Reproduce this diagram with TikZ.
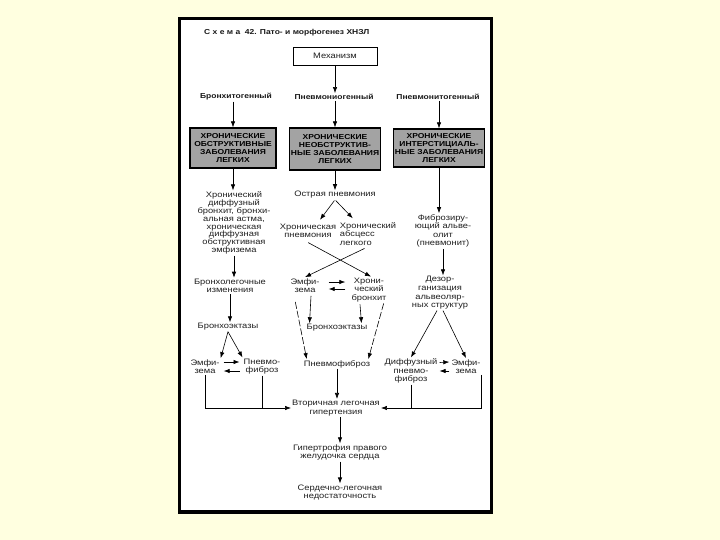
\documentclass[tikz,border=0pt]{standalone}
\usepackage{fontspec}
\setmainfont{Liberation Sans}[FakeStretch=1.18]
\usetikzlibrary{arrows.meta,calc}
\definecolor{bgyellow}{HTML}{FFFFE0}
\begin{document}
\begin{tikzpicture}[x=1pt,y=-1pt,
  txt/.style={font=\fontsize{7.9}{8.6}\selectfont, align=center, inner sep=1pt, text=black!88},
  hd/.style={font=\bfseries\fontsize{7.2}{8.5}\selectfont, inner sep=1pt, text=black!90},
  gbox/.style={draw, line width=1.2pt, fill=gray!72, font=\bfseries\fontsize{7.2}{8.2}\selectfont, align=center, inner sep=1pt},
  arr/.style={-{Latex[length=6pt,width=4.4pt]}, line width=0.6pt},
  ln/.style={line width=0.6pt},
  dsh/.style={arr, dash pattern=on 7pt off 2pt}]
\fill[bgyellow] (0,0) rectangle (720,540);
\useasboundingbox (0,0) rectangle (720,540);
\draw[line width=3.5pt, fill=white] (179.5,18.5) rectangle (491.5,512);

\node[hd, anchor=west] (title) at (203,33) {С~х~е~м~а~ 42. Пато- и морфогенез ХНЗЛ};
\node[txt, draw, line width=0.8pt, minimum width=84pt, minimum height=18pt] (mech) at (335,56) {Механизм};

\node[hd] (h1) at (236,97) {Бронхитогенный};
\node[hd] (h2) at (334,97) {Пневмониогенный};
\node[hd] (h3) at (438,97) {Пневмонитогенный};

\node[gbox, minimum width=86pt, minimum height=40pt] (B1) at (233,148) {ХРОНИЧЕСКИЕ\\ОБСТРУКТИВНЫЕ\\ЗАБОЛЕВАНИЯ\\ЛЕГКИХ};
\node[gbox, minimum width=86pt, minimum height=42pt] (B2) at (335,149) {ХРОНИЧЕСКИЕ\\НЕОБСТРУКТИВ-\\НЫЕ ЗАБОЛЕВАНИЯ\\ЛЕГКИХ};
\node[gbox, minimum width=84pt, minimum height=38pt] (B3) at (439,148) {ХРОНИЧЕСКИЕ\\ИНТЕРСТИЦИАЛЬ-\\НЫЕ ЗАБОЛЕВАНИЯ\\ЛЕГКИХ};

\node[txt, font=\fontsize{7.9}{7.9}\selectfont] (L1) at (234,223) {Хронический\\диффузный\\бронхит, бронхи-\\альная астма,\\хроническая\\диффузная\\обструктивная\\эмфизема};
\node[txt] (M1) at (335,195) {Острая пневмония};
\node[txt] (M2a) at (308,231) {Хроническая\\пневмония};
\node[txt, align=left] (M2b) at (368,234) {Хронический\\абсцесс\\легкого};
\node[txt] (R1) at (443,231) {Фиброзиру-\\ющий альве-\\олит\\(пневмонит)};
\node[txt] (L2) at (230,286) {Бронхолегочные\\изменения};
\node[txt] (M3a) at (305,285.5) {Эмфи-\\зема};
\node[txt] (M3b) at (369,290) {Хрони-\\ческий\\бронхит};
\node[txt] (R2) at (440,293) {Дезор-\\ганизация\\альвеоляр-\\ных структур};
\node[txt] (L3) at (228,327) {Бронхоэктазы};
\node[txt] (M4) at (337,328) {Бронхоэктазы};
\node[txt] (L4a) at (205,366.5) {Эмфи-\\зема};
\node[txt] (L4b) at (262,366.5) {Пневмо-\\фиброз};
\node[txt] (M5) at (337,364) {Пневмофиброз};
\node[txt] (R3a) at (411,371) {Диффузный\\пневмо-\\фиброз};
\node[txt] (R3b) at (466,366.5) {Эмфи-\\зема};
\node[txt] (V) at (336,408) {Вторичная легочная\\гипертензия};
\node[txt] (G) at (340,452.5) {Гипертрофия правого\\желудочка сердца};
\node[txt] (S) at (340,492.5) {Сердечно-легочная\\недостаточность};

% top
\draw[arr] (mech.south) -- (mech.south |- h2.north);
\draw[arr] (B1.north |- h1.south) -- (B1.north);
\draw[arr] (B2.north |- h2.south) -- (B2.north);
\draw[arr] (B3.north |- h3.south) -- (B3.north);
\draw[arr] (B1.south) -- (B1.south |- L1.north);
\draw[arr] (B2.south) -- (B2.south |- M1.north);
\draw[arr] (B3.south) -- (B3.south |- R1.north);

% middle column
\draw[arr, shorten <=1pt] (M1.south) -- ($(M2a.north)+(12,-3)$);
\draw[arr, shorten <=1pt] (M1.south) -- ($(M2b.north west)+(14,-3)$);
\draw[arr, shorten <=7pt] ($(M2a.south)+(-6,0)$) -- ($(M3b.north)+(2,0)$);
\draw[arr, shorten <=4pt] (M2b.south) -- (M3a.north);
\draw[arr] ($(M3a.east)+(8,-3.5)$) -- ($(M3b.west)+(-5,-8)$);
\draw[arr] ($(M3b.west)+(-5,-1)$) -- ($(M3a.east)+(8,3.5)$);
\draw[arr] ($(M3a.south)+(6,2)$) -- ($(M4.north west)+(4,0)$);
\draw[arr] ($(M3b.south)+(-9,1)$) -- ($(M4.north east)+(-7,0)$);
\draw[dsh] ($(M3a.south west)+(6,8)$) -- ($(M5.north west)+(4,0)$);
\draw[dsh] ($(M3b.south east)+(-4,0)$) -- ($(M5.north east)+(-3,0)$);
\draw[arr] (M5.south) -- (M5.south |- V.north);

% left column
\draw[arr] (L1.south) -- (L1.south |- L2.north);
\draw[arr] (L2.south) -- (L2.south |- L3.north);
\draw[arr] (L3.south) -- (L4a.north east);
\draw[arr] (L3.south) -- (L4b.north west);
\draw[arr] ($(L4a.east)+(3,-4.5)$) -- ($(L4b.west)+(-3,-4.5)$);
\draw[arr] ($(L4b.west)+(-3,4.5)$) -- ($(L4a.east)+(3,4.5)$);
\draw[arr] (L4a.south) |- (V.west);
\draw[ln] (L4b.south) -- (L4b.south |- V.west);

% right column
\draw[arr] (R1.south) -- (R1.south |- R2.north);
\draw[arr] ($(R2.south)+(-3,0)$) -- (R3a.north);
\draw[arr] ($(R2.south)+(3,0)$) -- (R3b.north);
\draw[arr] ($(R3a.east)+(1,-8.5)$) -- ($(R3b.west)+(-1,-4.5)$);
\draw[arr] ($(R3b.west)+(-1,4.5)$) -- ($(R3a.east)+(1,0)$);
\draw[arr] (R3b.south east) |- (V.east);
\draw[ln] (R3a.south) -- (R3a.south |- V.east);

% bottom
\draw[arr] (G.north |- V.south) -- (G.north);
\draw[arr] (G.south) -- (S.north);
\end{tikzpicture}
\end{document}
